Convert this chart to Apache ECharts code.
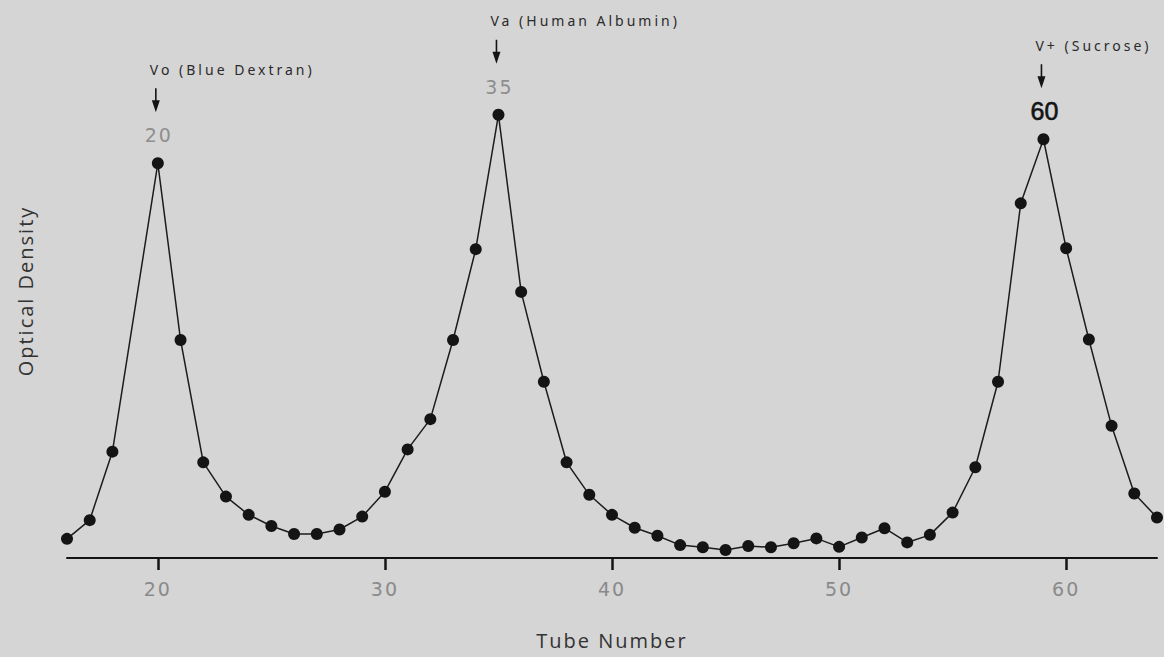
<!DOCTYPE html>
<html>
<head>
<meta charset="utf-8">
<title>Elution profile</title>
<script src="https://cdn.jsdelivr.net/npm/echarts@6/dist/echarts.min.js"></script>
<style>
  html, body { margin: 0; padding: 0; background: #d5d5d5; }
  #chart { width: 1164px; height: 657px; }
  /* hand-lettered look: widen the lettering of each text group */
  #chart text[style*="Noto Sans"] { letter-spacing: 3px; }
  #chart text[style*="DejaVu Sans"] { letter-spacing: 2px; }
  #chart text[style*="Open Sans"] { letter-spacing: 2px; }
</style>
</head>
<body>
<div id="chart"></div>
<script>
// Column elution profile: optical density of each collected tube (tube 19 not read)
const tubes = [
  16, 17, 18, 20, 21, 22, 23, 24, 25, 26, 27, 28, 29, 30, 31, 32, 33, 34, 35,
  36, 37, 38, 39, 40, 41, 42, 43, 44, 45, 46, 47, 48, 49, 50, 51, 52, 53, 54,
  55, 56, 57, 58, 59, 60, 61, 62, 63, 64
];
const opticalDensity = [
  0.043, 0.085, 0.239, 0.887, 0.490, 0.215, 0.138, 0.097, 0.072, 0.054, 0.054, 0.064, 0.093, 0.149, 0.244, 0.312, 0.490, 0.694, 0.996,
  0.598, 0.396, 0.215, 0.142, 0.097, 0.068, 0.050, 0.029, 0.024, 0.018, 0.027, 0.024, 0.033, 0.044, 0.025, 0.046, 0.067, 0.035, 0.052,
  0.102, 0.204, 0.396, 0.797, 0.941, 0.696, 0.491, 0.297, 0.145, 0.091
];

// Axis ticks on the tube-number axis
const tickTubes = [20, 30, 40, 50, 60];

// Marker substances and the tube numbers written over their peaks
const peakTubes = [20, 35, 59];
const peakNames = ['Vo (Blue Dextran)', 'Va (Human Albumin)', 'V+ (Sucrose)'];
const peakNumbers = ['20', '35', '60'];

const chart = echarts.init(document.getElementById('chart'), null, { renderer: 'svg' });

const profile = tubes.map((t, i) => [t, opticalDensity[i]]);
const peaks = peakTubes.map(t => [t, opticalDensity[tubes.indexOf(t)]]);

const INK = '#141414';

function numberStyle(i, text) {
  if (i === peakNumbers.length - 1) {
    // the last tube number is inked heavier than the other two
    return { text: text, font: '25px Liberation Sans', fill: INK, stroke: INK, lineWidth: 0.6,
             align: 'center', verticalAlign: 'middle', textAlign: 'center', textVerticalAlign: 'middle' };
  }
  return { text: text, font: '19px DejaVu Sans', fill: '#8e8e8e',
           align: 'center', verticalAlign: 'middle', textAlign: 'center', textVerticalAlign: 'middle' };
}

function renderPeakNote(params, api) {
  const i = params.dataIndex;
  const p = api.coord([api.value(0), api.value(1)]);
  const x = p[0], y = p[1];
  const ax = x - 2;
  return {
    type: 'group',
    children: [
      {
        type: 'text', x: x - 8, y: y - 94,
        style: { text: peakNames[i], font: '14px Noto Sans', fill: '#2a2a2a',
                 align: 'left', verticalAlign: 'middle', textAlign: 'left', textVerticalAlign: 'middle' }
      },
      {
        type: 'line',
        shape: { x1: ax, y1: y - 75, x2: ax, y2: y - 60 },
        style: { stroke: INK, lineWidth: 1.6 }
      },
      {
        type: 'polygon',
        shape: { points: [[ax - 4, y - 63], [ax + 4, y - 63], [ax, y - 51]] },
        style: { fill: INK }
      },
      {
        type: 'text', x: x + 1, y: y - 28,
        style: numberStyle(i, peakNumbers[i])
      }
    ]
  };
}

chart.setOption({
  backgroundColor: '#d5d5d5',
  animation: false,
  grid: { left: 67, right: 7, top: 24, bottom: 99, containLabel: false, outerBoundsMode: 'none' },
  xAxis: {
    type: 'value', min: 16, max: 64,
    axisLine: { show: true, onZero: false, lineStyle: { color: INK, width: 2 } },
    axisTick: { show: true, customValues: tickTubes, length: 12, lineStyle: { color: INK, width: 2.5 } },
    axisLabel: { show: true, customValues: tickTubes, margin: 21, color: '#8a8a8a',
                 fontFamily: 'DejaVu Sans', fontSize: 19 },
    splitLine: { show: false },
    name: 'Tube Number', nameLocation: 'middle', nameGap: 72,
    nameTextStyle: { fontFamily: 'Open Sans', fontSize: 20, color: '#333333' }
  },
  yAxis: {
    type: 'value', min: 0, max: 1.2,
    axisLine: { show: false }, axisTick: { show: false }, axisLabel: { show: false },
    splitLine: { show: false },
    name: 'Optical Density', nameLocation: 'middle', nameGap: 32, nameRotate: 90,
    nameTextStyle: { fontFamily: 'Open Sans', fontSize: 20, color: '#333333' }
  },
  series: [
    {
      type: 'line',
      data: profile,
      symbol: 'circle',
      symbolSize: 12,
      itemStyle: { color: INK },
      lineStyle: { color: '#1c1c1c', width: 1.5 },
      z: 3
    },
    {
      type: 'custom',
      data: peaks,
      clip: false,
      renderItem: renderPeakNote,
      z: 4
    }
  ]
});
</script>
</body>
</html>
